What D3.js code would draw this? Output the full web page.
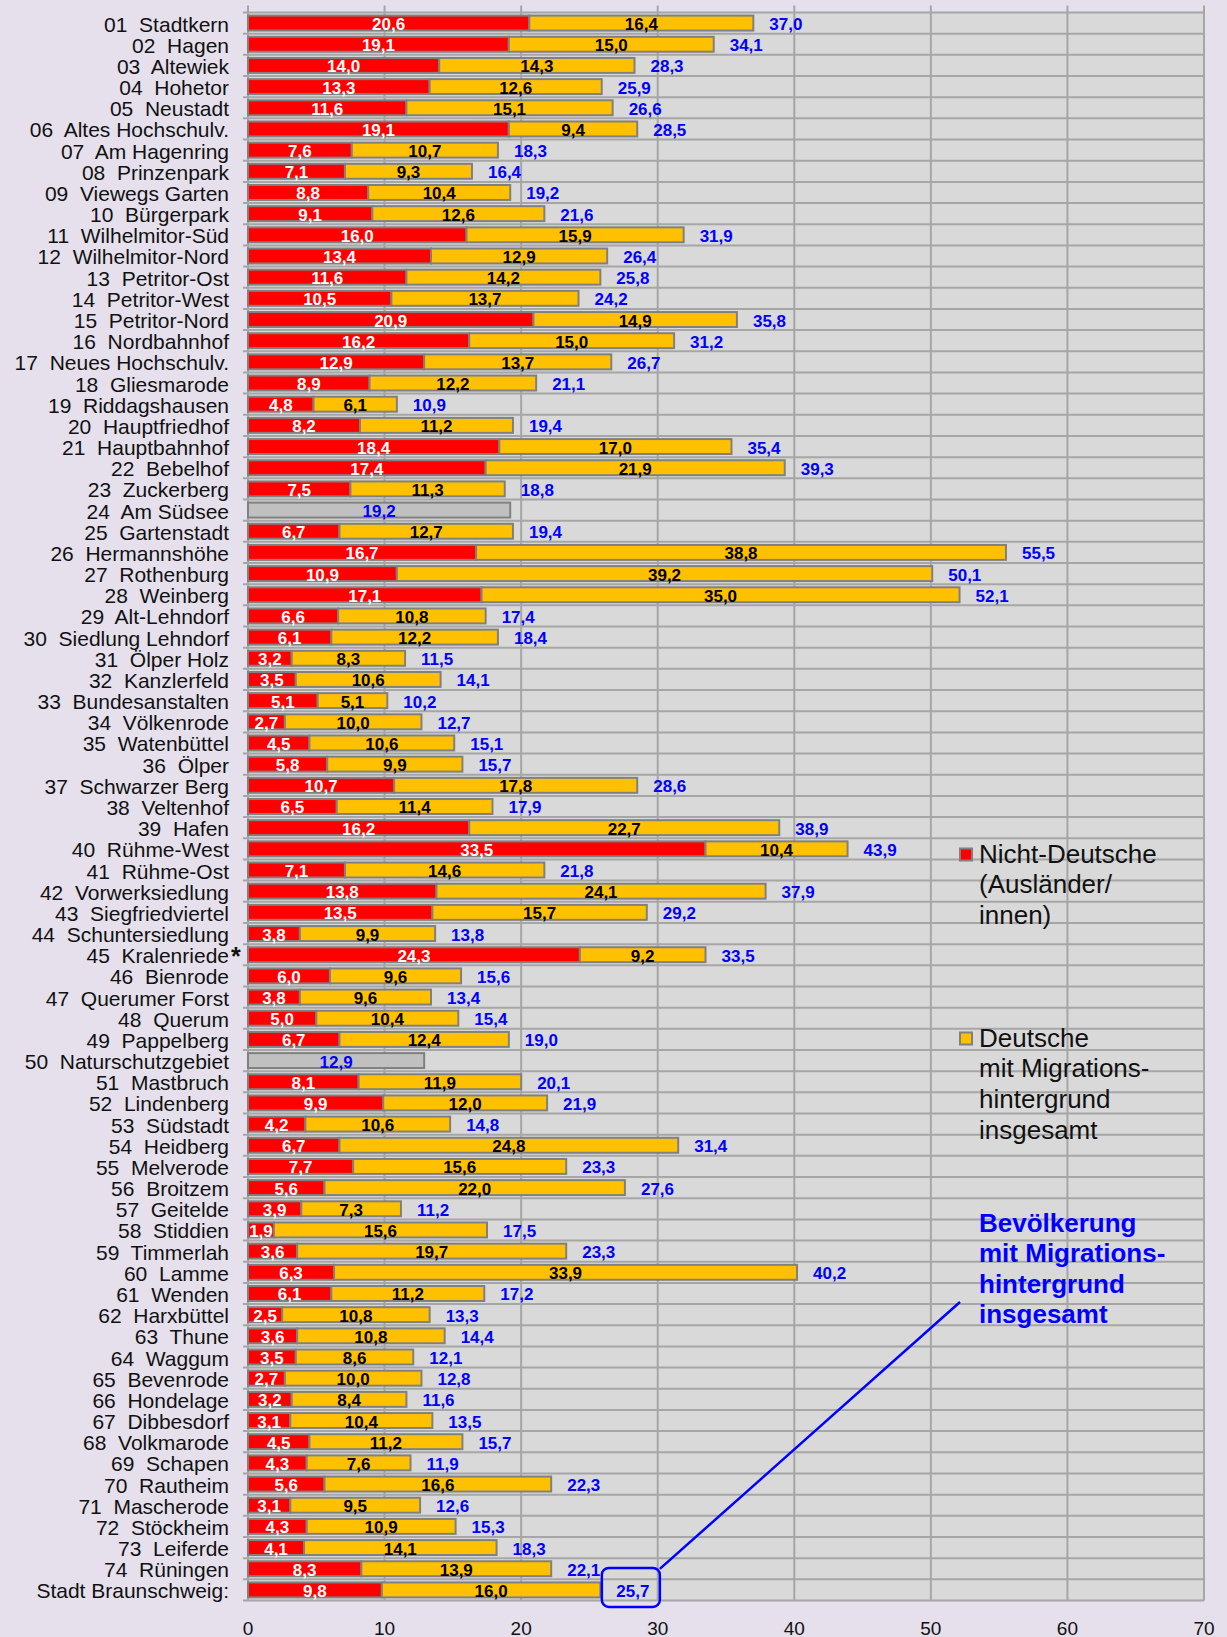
<!DOCTYPE html>
<html>
<head>
<meta charset="utf-8">
<script src="https://cdn.jsdelivr.net/npm/d3@7"></script>
<style>
  body { margin: 0; background: #E5E0EC; }
  svg text { font-family: "Liberation Sans", Arial, sans-serif; }
</style>
</head>
<body>
<div id="chart"></div>
<script>
// Migrationshintergrund nach Stadtbezirken (Anteil in %)
var districts = [
  "01  Stadtkern", "02  Hagen", "03  Altewiek", "04  Hohetor", "05  Neustadt",
  "06  Altes Hochschulv.", "07  Am Hagenring", "08  Prinzenpark", "09  Viewegs Garten", "10  Bürgerpark",
  "11  Wilhelmitor-Süd", "12  Wilhelmitor-Nord", "13  Petritor-Ost", "14  Petritor-West", "15  Petritor-Nord",
  "16  Nordbahnhof", "17  Neues Hochschulv.", "18  Gliesmarode", "19  Riddagshausen", "20  Hauptfriedhof",
  "21  Hauptbahnhof", "22  Bebelhof", "23  Zuckerberg", "24  Am Südsee", "25  Gartenstadt",
  "26  Hermannshöhe", "27  Rothenburg", "28  Weinberg", "29  Alt-Lehndorf", "30  Siedlung Lehndorf",
  "31  Ölper Holz", "32  Kanzlerfeld", "33  Bundesanstalten", "34  Völkenrode", "35  Watenbüttel",
  "36  Ölper", "37  Schwarzer Berg", "38  Veltenhof", "39  Hafen", "40  Rühme-West",
  "41  Rühme-Ost", "42  Vorwerksiedlung", "43  Siegfriedviertel", "44  Schuntersiedlung", "45  Kralenriede*",
  "46  Bienrode", "47  Querumer Forst", "48  Querum", "49  Pappelberg", "50  Naturschutzgebiet",
  "51  Mastbruch", "52  Lindenberg", "53  Südstadt", "54  Heidberg", "55  Melverode",
  "56  Broitzem", "57  Geitelde", "58  Stiddien", "59  Timmerlah", "60  Lamme",
  "61  Wenden", "62  Harxbüttel", "63  Thune", "64  Waggum", "65  Bevenrode",
  "66  Hondelage", "67  Dibbesdorf", "68  Volkmarode", "69  Schapen", "70  Rautheim",
  "71  Mascherode", "72  Stöckheim", "73  Leiferde", "74  Rüningen", "Stadt Braunschweig:"
];
// null = keine Aufteilung (nur Gesamtwert, grauer Balken)
var nichtDeutsche = [
  20.6, 19.1, 14.0, 13.3, 11.6, 19.1, 7.6, 7.1, 8.8, 9.1,
  16.0, 13.4, 11.6, 10.5, 20.9, 16.2, 12.9, 8.9, 4.8, 8.2,
  18.4, 17.4, 7.5, null, 6.7, 16.7, 10.9, 17.1, 6.6, 6.1,
  3.2, 3.5, 5.1, 2.7, 4.5, 5.8, 10.7, 6.5, 16.2, 33.5,
  7.1, 13.8, 13.5, 3.8, 24.3, 6.0, 3.8, 5.0, 6.7, null,
  8.1, 9.9, 4.2, 6.7, 7.7, 5.6, 3.9, 1.9, 3.6, 6.3,
  6.1, 2.5, 3.6, 3.5, 2.7, 3.2, 3.1, 4.5, 4.3, 5.6,
  3.1, 4.3, 4.1, 8.3, 9.8
];
var deutscheMH = [
  16.4, 15.0, 14.3, 12.6, 15.1, 9.4, 10.7, 9.3, 10.4, 12.6,
  15.9, 12.9, 14.2, 13.7, 14.9, 15.0, 13.7, 12.2, 6.1, 11.2,
  17.0, 21.9, 11.3, null, 12.7, 38.8, 39.2, 35.0, 10.8, 12.2,
  8.3, 10.6, 5.1, 10.0, 10.6, 9.9, 17.8, 11.4, 22.7, 10.4,
  14.6, 24.1, 15.7, 9.9, 9.2, 9.6, 9.6, 10.4, 12.4, null,
  11.9, 12.0, 10.6, 24.8, 15.6, 22.0, 7.3, 15.6, 19.7, 33.9,
  11.2, 10.8, 10.8, 8.6, 10.0, 8.4, 10.4, 11.2, 7.6, 16.6,
  9.5, 10.9, 14.1, 13.9, 16.0
];
var insgesamt = [
  37.0, 34.1, 28.3, 25.9, 26.6, 28.5, 18.3, 16.4, 19.2, 21.6,
  31.9, 26.4, 25.8, 24.2, 35.8, 31.2, 26.7, 21.1, 10.9, 19.4,
  35.4, 39.3, 18.8, 19.2, 19.4, 55.5, 50.1, 52.1, 17.4, 18.4,
  11.5, 14.1, 10.2, 12.7, 15.1, 15.7, 28.6, 17.9, 38.9, 43.9,
  21.8, 37.9, 29.2, 13.8, 33.5, 15.6, 13.4, 15.4, 19.0, 12.9,
  20.1, 21.9, 14.8, 31.4, 23.3, 27.6, 11.2, 17.5, 23.3, 40.2,
  17.2, 13.3, 14.4, 12.1, 12.8, 11.6, 13.5, 15.7, 11.9, 22.3,
  12.6, 15.3, 18.3, 22.1, 25.7
];
var xTicks = [0, 10, 20, 30, 40, 50, 60, 70];

var legendItems = [
  {color: "#FF0000", lines: ["Nicht-Deutsche", "(Ausländer/", "innen)"]},
  {color: "#FFC000", lines: ["Deutsche", "mit Migrations-", "hintergrund", "insgesamt"]}
];
var noteLines = ["Bevölkerung", "mit Migrations-", "hintergrund", "insgesamt"];

var rows = districts.map(function(d, i) {
  return {name: d, nd: nichtDeutsche[i], dm: deutscheMH[i], total: insgesamt[i]};
});

var width = 1227, height = 1637;
var margin = {top: 12.5, right: 23, bottom: 36.5, left: 248};
var w = width - margin.left - margin.right;
var h = height - margin.top - margin.bottom;

var fmt = function(v) { return d3.format(".1f")(v).replace(".", ","); };

var svg = d3.select("#chart").append("svg")
  .attr("width", width)
  .attr("height", height);

var g = svg.append("g")
  .attr("transform", "translate(" + margin.left + "," + margin.top + ")");

var x = d3.scaleLinear().domain([0, 70]).range([0, w]);
var y = d3.scaleBand().domain(districts).range([0, h])
  .paddingInner(0.2).paddingOuter(0.1);
var step = y.step();
var bw = y.bandwidth();

// plot background
g.append("rect")
  .attr("width", w).attr("height", h)
  .attr("fill", "#D9D9D9");

// horizontal grid at row boundaries
g.selectAll(".hgrid")
  .data(d3.range(districts.length + 1))
  .enter().append("line")
  .attr("class", "hgrid")
  .attr("x1", -5).attr("x2", w)
  .attr("y1", function(i) { return i * step; })
  .attr("y2", function(i) { return i * step; })
  .attr("stroke", "#A6A6A6").attr("stroke-width", 2);

// vertical grid
g.selectAll(".vgrid")
  .data(xTicks)
  .enter().append("line")
  .attr("class", "vgrid")
  .attr("x1", function(d) { return x(d); })
  .attr("x2", function(d) { return x(d); })
  .attr("y1", -7).attr("y2", h)
  .attr("stroke", "#A6A6A6").attr("stroke-width", 2);

// x tick labels
g.selectAll(".xlab")
  .data(xTicks)
  .enter().append("text")
  .attr("x", function(d) { return x(d); })
  .attr("y", h + 34)
  .attr("text-anchor", "middle")
  .attr("font-size", 19)
  .attr("fill", "#111")
  .text(function(d) { return d; });

// category labels
var cat = g.selectAll(".cat")
  .data(rows)
  .enter().append("g")
  .attr("class", "cat")
  .attr("transform", function(d) { return "translate(0," + (y(d.name) + bw / 2 + 8.5) + ")"; });
cat.append("text")
  .attr("x", -19)
  .attr("text-anchor", "end")
  .attr("font-size", 21)
  .attr("fill", "#111")
  .style("white-space", "pre")
  .text(function(d) { return d.name.replace("*", ""); });
cat.filter(function(d) { return d.name.indexOf("*") >= 0; })
  .append("text")
  .attr("x", -17)
  .attr("y", 2)
  .attr("font-size", 25)
  .attr("font-weight", "bold")
  .attr("fill", "#111")
  .text("*");

var bars = g.selectAll(".row")
  .data(rows)
  .enter().append("g")
  .attr("class", "row")
  .attr("transform", function(d) { return "translate(0," + y(d.name) + ")"; });

var split = bars.filter(function(d) { return d.nd !== null; });
var whole = bars.filter(function(d) { return d.nd === null; });

split.append("rect")
  .attr("x", x(0)).attr("y", 1)
  .attr("width", function(d) { return x(d.nd) - x(0); })
  .attr("height", bw - 2)
  .attr("fill", "#FF0000").attr("stroke", "#808080").attr("stroke-width", 2);
split.append("rect")
  .attr("x", function(d) { return x(d.nd); }).attr("y", 1)
  .attr("width", function(d) { return x(d.nd + d.dm) - x(d.nd); })
  .attr("height", bw - 2)
  .attr("fill", "#FFC000").attr("stroke", "#808080").attr("stroke-width", 2);
whole.append("rect")
  .attr("x", x(0)).attr("y", 1)
  .attr("width", function(d) { return x(d.total) - x(0); })
  .attr("height", bw - 2)
  .attr("fill", "#C0C0C0").attr("stroke", "#808080").attr("stroke-width", 2);

var ty = bw / 2 + 7;
split.append("text")
  .attr("x", function(d) { return x(d.nd / 2); })
  .attr("y", ty)
  .attr("text-anchor", "middle").attr("font-size", 17).attr("font-weight", "bold")
  .attr("fill", "#fff")
  .text(function(d) { return fmt(d.nd); });
split.append("text")
  .attr("x", function(d) { return x(d.nd + d.dm / 2); })
  .attr("y", ty)
  .attr("text-anchor", "middle").attr("font-size", 17).attr("font-weight", "bold")
  .attr("fill", "#000")
  .text(function(d) { return fmt(d.dm); });
split.append("text")
  .attr("class", "total")
  .attr("x", function(d) { return x(d.nd + d.dm) + 16; })
  .attr("y", ty)
  .attr("font-size", 17).attr("font-weight", "bold")
  .attr("fill", "#0000FF")
  .text(function(d) { return fmt(d.total); });
whole.append("text")
  .attr("x", function(d) { return x(d.total / 2); })
  .attr("y", ty)
  .attr("text-anchor", "middle").attr("font-size", 17).attr("font-weight", "bold")
  .attr("fill", "#0000FF")
  .text(function(d) { return fmt(d.total); });

// callout around the city total
var city = rows[rows.length - 1];
var cx0 = x(city.nd + city.dm) + 16;
var cy0 = y(city.name) + ty;
var box = {x: cx0 - 14.5, y: cy0 - 29, w: 58, h: 39};
g.append("rect")
  .attr("x", box.x).attr("y", box.y)
  .attr("width", box.w).attr("height", box.h)
  .attr("rx", 7)
  .attr("fill", "none").attr("stroke", "#0000FF").attr("stroke-width", 2.5);

// note text + leader line
var note = svg.append("text")
  .attr("x", 979).attr("y", 1232)
  .attr("font-size", 26).attr("font-weight", "bold")
  .attr("fill", "#0000FF");
note.selectAll("tspan")
  .data(noteLines)
  .enter().append("tspan")
  .attr("x", 979)
  .attr("dy", function(d, i) { return i === 0 ? 0 : 30.4; })
  .text(function(d) { return d; });
svg.append("line")
  .attr("x1", margin.left + box.x + box.w).attr("y1", margin.top + box.y + 1)
  .attr("x2", 960).attr("y2", 1302)
  .attr("stroke", "#0000FF").attr("stroke-width", 2.5);

// legend
var legendY = [862.5, 1046.5];
var leg = svg.selectAll(".legend")
  .data(legendItems)
  .enter().append("g")
  .attr("class", "legend")
  .attr("transform", function(d, i) { return "translate(959," + legendY[i] + ")"; });
leg.append("rect")
  .attr("x", 1).attr("y", -14)
  .attr("width", 12).attr("height", 12)
  .attr("fill", function(d) { return d.color; })
  .attr("stroke", "#808080").attr("stroke-width", 2);
leg.append("text")
  .attr("font-size", 26)
  .attr("fill", "#111")
  .selectAll("tspan")
  .data(function(d) { return d.lines; })
  .enter().append("tspan")
  .attr("x", 20)
  .attr("dy", function(d, i) { return i === 0 ? 0 : 30.7; })
  .text(function(d) { return d; });
</script>
</body>
</html>
